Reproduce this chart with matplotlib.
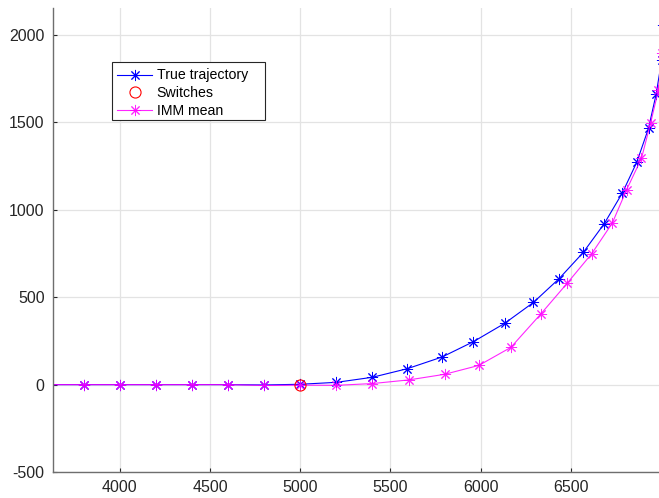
import numpy as np
import matplotlib.pyplot as plt
from matplotlib.patches import Rectangle

plt.rcParams['font.family'] = ['Liberation Sans', 'DejaVu Sans']
plt.rcParams['axes.unicode_minus'] = False

# trajectoria verdadeira
x_true = [3600, 3800, 4000, 4200, 4400, 4600, 4800, 5000, 5200, 5400, 5593, 5786,
          5960, 6132, 6292, 6435, 6568, 6684, 6784, 6865, 6930, 6972, 7003, 7010]
y_true = [0, 0, 0, 0, 0, 0, -2, 2, 13, 42, 91, 158,
          246, 350, 470, 607, 756, 920, 1095, 1273, 1467, 1661, 1857, 2057]

# instantes de troca de modelo
x_sw = [5000]
y_sw = [0]

# media do filtro IMM
x_imm = [3600, 3800, 4000, 4200, 4400, 4600, 4800, 5000, 5200, 5400, 5602, 5800,
         5990, 6167, 6333, 6480, 6615, 6729, 6808, 6891, 6941, 6985, 7005]
y_imm = [0, 0, 0, 0, 0, 0, -5, -3, -4, 6, 27, 59,
         110, 213, 404, 581, 749, 924, 1114, 1295, 1495, 1686, 1897]

asterisco = (8, 2, 0)

fig = plt.figure(figsize=(6.59, 4.98), dpi=100)
ax = fig.add_axes([53 / 659, (498 - 472) / 498, (659 - 53) / 659, (472 - 8) / 498])

ax.plot(x_true, y_true, '-', color='#0000ff', lw=0.8, marker=asterisco, ms=8, mew=0.7,
        label='True trajectory')
ax.plot(x_sw, y_sw, 'o', color='#ff0000', mfc='none', ms=8, mew=0.8, ls='none',
        label='Switches', zorder=4)
ax.plot(x_imm, y_imm, '-', color='#ff00ff', lw=0.8, marker=asterisco, ms=8, mew=0.7,
        label='IMM mean', alpha=0.85)

ax.set_xlim(3630, 6988)
ax.set_ylim(-500, 2155)
ax.set_xticks([4000, 4500, 5000, 5500, 6000, 6500])
ax.set_yticks([-500, 0, 500, 1000, 1500, 2000])

ax.grid(True, color='#e3e3e3', lw=0.9)
ax.set_axisbelow(True)
for lado in ['top', 'right']:
    ax.spines[lado].set_visible(False)
for lado in ['left', 'bottom']:
    ax.spines[lado].set_color('#6e6e6e')
    ax.spines[lado].set_linewidth(1.0)
ax.tick_params(direction='in', length=3, color='#262626', labelcolor='#262626',
               labelsize=11.5, pad=6)

# caixa da legenda desenhada a parte
ax.add_patch(Rectangle((0.0974, 0.7586), 0.2524, 0.125, transform=ax.transAxes,
                       facecolor='white', edgecolor='#262626', lw=0.8, zorder=5))
leg = ax.legend(loc='upper left', bbox_to_anchor=(0.1056, 0.8697), fontsize=10.2,
                frameon=False, borderpad=0, handlelength=2.5, handletextpad=0.3,
                labelspacing=0.26, borderaxespad=0)
leg.set_zorder(6)

fig.savefig('out.png', dpi=100)
